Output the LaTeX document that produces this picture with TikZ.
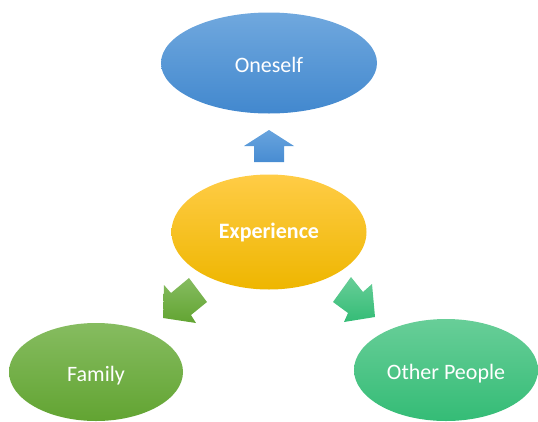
\documentclass[tikz,border=0pt]{standalone}
\usepackage{fontspec}
\setmainfont{Carlito}
\usetikzlibrary{shapes.geometric}
\definecolor{blueT}{RGB}{112,168,222}
\definecolor{blueB}{RGB}{66,136,206}
\definecolor{yelT}{RGB}{255,204,70}
\definecolor{yelB}{RGB}{238,182,0}
\definecolor{grnT}{RGB}{134,188,96}
\definecolor{grnB}{RGB}{98,164,50}
\definecolor{tealT}{RGB}{104,206,152}
\definecolor{tealB}{RGB}{52,188,118}
\definecolor{arrBT}{RGB}{104,164,222}
\definecolor{arrBB}{RGB}{72,140,210}
\newcommand{\lowtext}[2][18pt]{\raisebox{0pt}[#1][0pt]{#2}}
\tikzset{
  bubble/.style={ellipse, inner sep=0pt, text=white, font=\fontsize{22}{26}\selectfont},
  blockarrow/.style={draw=none}
}
\begin{document}
\begin{tikzpicture}[x=1pt,y=-1pt]
\useasboundingbox (0,0) rectangle (538,421);
% ellipses
\node[bubble, minimum width=216pt, minimum height=101pt, top color=blueT, bottom color=blueB] (oneself) at (269,63) {\lowtext{Oneself}};
\node[bubble, minimum width=195pt, minimum height=115pt, top color=yelT, bottom color=yelB, font=\fontsize{22}{26}\selectfont\bfseries] (exp) at (269,232) {\lowtext[13pt]{Experience}};
\node[bubble, minimum width=174pt, minimum height=98pt, top color=grnT, bottom color=grnB] (family) at (96,372) {\lowtext{Family}};
\node[bubble, minimum width=184pt, minimum height=102pt, top color=tealT, bottom color=tealB] (other) at (446,370) {\lowtext{Other People}};
% up arrow
\shade[blockarrow, top color=arrBT, bottom color=arrBB]
  (269,130) -- (294,146) -- (284,146) -- (284,162) -- (254,162) -- (254,146) -- (244,146) -- cycle;
% down-left arrow
\shade[blockarrow, top color=grnT, bottom color=grnB]
  (163,318) -- (164,285) -- (171,293) -- (189,278) -- (207,302) -- (191,315) -- (196,323) -- cycle;
% down-right arrow
\shade[blockarrow, top color=tealT, bottom color=tealB]
  (375,317) -- (344,322) -- (348,313) -- (333,302) -- (351,277) -- (363,292) -- (372,284) -- cycle;
\end{tikzpicture}
\end{document}
